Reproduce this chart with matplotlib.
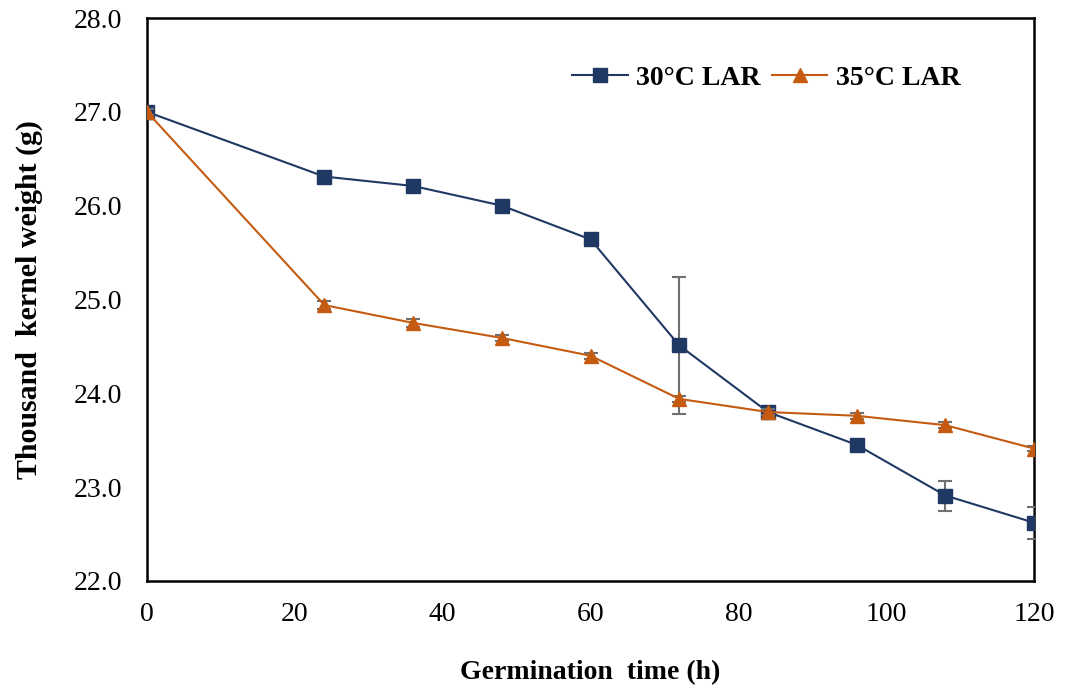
import matplotlib.pyplot as plt

plt.rcParams['font.family'] = ['Liberation Serif', 'DejaVu Serif']

hours = [0, 24, 36, 48, 60, 72, 84, 96, 108, 120]
lar30 = [27.0, 26.31, 26.21, 26.0, 25.64, 24.51, 23.80, 23.45, 22.91, 22.62]
err30 = [0.03, 0.03, 0.03, 0.03, 0.03, 0.73, 0.03, 0.03, 0.16, 0.17]
lar35 = [27.0, 24.94, 24.75, 24.59, 24.40, 23.94, 23.80, 23.76, 23.66, 23.41]
err35 = [0.03, 0.04, 0.04, 0.03, 0.03, 0.03, 0.03, 0.03, 0.03, 0.03]

fig = plt.figure(figsize=(10.65, 6.94), dpi=100)
ax = fig.add_axes([0.138, 0.163, 0.833, 0.811])

ax.errorbar(hours, lar30, yerr=err30, color='#203864', marker='s', markersize=9.5,
            linewidth=1.5, ecolor='#707070', elinewidth=1.5, capsize=5, capthick=1.5,
            label='30°C LAR', zorder=3)
ax.errorbar(hours, lar35, yerr=err35, color='#C55A11', marker='^', markersize=10,
            linewidth=1.5, ecolor='#707070', elinewidth=1.5, capsize=5, capthick=1.5,
            label='35°C LAR', zorder=4)

ax.set_xlim(0, 120)
ax.set_ylim(22, 28)
ax.set_xticks(range(0, 121, 20))
ax.set_yticks([22, 23, 24, 25, 26, 27, 28])
ax.set_yticklabels(['%.1f' % v for v in [22, 23, 24, 25, 26, 27, 28]])
ax.tick_params(length=0, labelsize=20)
ax.tick_params(axis='x', pad=15)
ax.tick_params(axis='y', pad=18)
for s in ax.spines.values():
    s.set_linewidth(1.8)

ax.set_xlabel('Germination  time (h)', fontsize=20, fontweight='bold', labelpad=24)
ax.set_ylabel('Thousand  kernel weight (g)', fontsize=21.5, fontweight='bold', labelpad=22)

handles, labels = ax.get_legend_handles_labels()
handles = [h[0] for h in handles]
ax.legend(handles, labels, loc='upper right', bbox_to_anchor=(0.945, 0.96), ncol=2,
          frameon=False, prop={'weight': 'bold', 'size': 20}, handlelength=2.0,
          columnspacing=0.4, handletextpad=0.3)

fig.savefig('out.png', dpi=100)
